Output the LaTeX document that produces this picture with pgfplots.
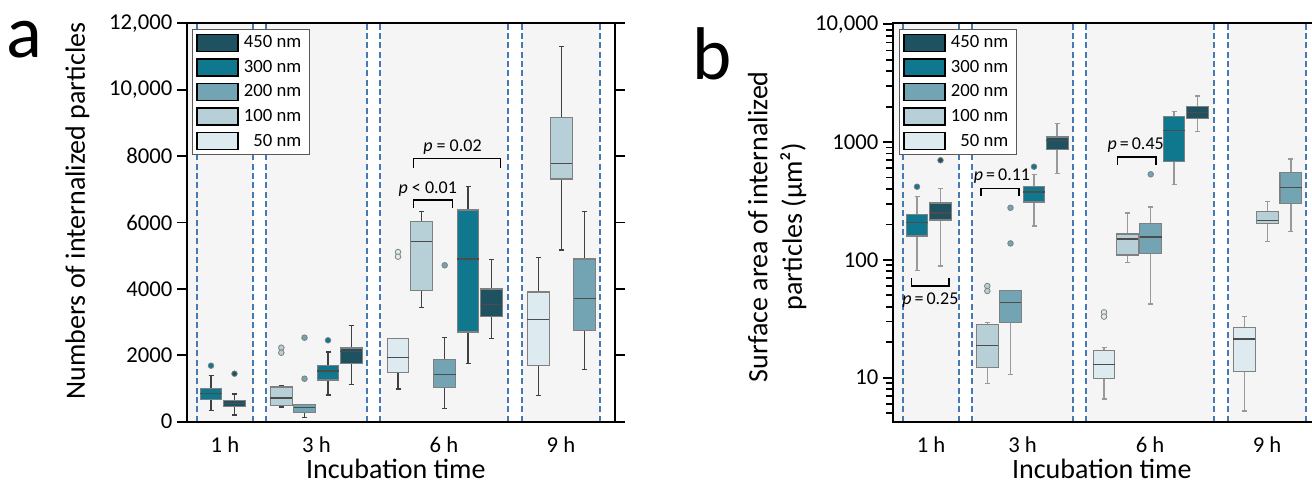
\documentclass[border=0pt]{standalone}
\usepackage{fontspec}
\setmainfont{Carlito}
\usepackage{pgfplots}
\pgfplotsset{compat=1.18}
\usepgfplotslibrary{statistics}

\definecolor{c450}{RGB}{30,82,97}
\definecolor{c300}{RGB}{15,120,142}
\definecolor{c200}{RGB}{114,164,179}
\definecolor{c100}{RGB}{183,207,215}
\definecolor{c50}{RGB}{221,235,240}
\definecolor{bggray}{RGB}{245,245,245}
\definecolor{dashblue}{RGB}{70,122,178}

\tikzset{
  sig/.style={font=\fontsize{13.5}{16}\selectfont},
  dsh/.style={dashblue, dash pattern=on 4.5pt off 2.5pt, line width=1.2pt},
}
\newcommand{\legtxt}[1]{#1\hspace*{2.5pt}}

\pgfplotsset{
  bp/.style n args={7}{
    boxplot prepared={draw direction=y, draw position=#1, lower whisker=#2, lower quartile=#3,
      median=#4, upper quartile=#5, upper whisker=#6, box extend=21.7, whisker extend=5},
    fill=#7, draw=black!50, line width=0.8pt, solid,
    mark=*, mark size=2.1pt, mark options={fill=#7, draw=black!50, line width=0.6pt},
    forget plot},
  panel/.style={
    scale only axis, width=321pt, height=298.8pt,
    xmin=187, xmax=615, axis on top,
    axis line style={line width=1.6pt},
    xtick={225,316.5,444,561}, xticklabels={1 h,3 h,6 h,9 h},
    xtick style={draw=none},
    ytick style={line width=1.4pt, black},
    scaled y ticks=false,
    tick align=outside, major tick length=7.5pt, minor tick length=5pt,
    tick label style={font=\fontsize{17}{20}\selectfont},
    label style={font=\fontsize{21}{26}\selectfont},
    xlabel={Incubation time},
    xlabel style={at={(rel axis cs:0.488,-0.118)}, anchor=center, inner sep=0pt},
    boxplot/every median/.style={draw=black!70, line width=1pt},
    boxplot/every whisker/.style={draw=black!75, line width=0.9pt},
    legend cell align=right,
    legend image code/.code={\draw[#1, draw=black, line width=1.1pt] (0pt,-6.3pt) rectangle (30.75pt,6.3pt);},
    legend style={anchor=north west, draw=black!65, line width=0.7pt, fill=white,
      font=\fontsize{14}{16}\selectfont, inner sep=3pt, row sep=4.7pt, nodes={inner sep=1pt},
      column sep=3pt},
  },
}

\begin{document}
\begin{tikzpicture}
\useasboundingbox (0,0) rectangle (984pt,363.75pt);

% ---------------- panel a ----------------
\begin{axis}[panel, at={(140.25pt,47.475pt)}, anchor=south west,
  ymin=0, ymax=12000, ytick={0,2000,4000,6000,8000,10000,12000},
  yticklabels={0,2000,4000,6000,8000,{10,000},{12,000}},
  ylabel={Numbers of internalized particles},
  ylabel style={at={(rel axis cs:-0.256,0.529)}, anchor=center},
  legend style={at={(rel axis cs:0.011,0.985)}}]
\fill[bggray] (axis cs:187,0) rectangle (axis cs:253,12000);
\fill[bggray] (axis cs:266,0) rectangle (axis cs:367,12000);
\fill[bggray] (axis cs:380,0) rectangle (axis cs:508,12000);
\fill[bggray] (axis cs:522,0) rectangle (axis cs:600,12000);
\pgfplotsinvokeforeach{197,253,266,367,380,508,522,600}{
  \draw[dsh] (axis cs:#1,0) -- (axis cs:#1,12000);
}
\addlegendimage{fill=c450}\addlegendentry{\legtxt{450 nm}}
\addlegendimage{fill=c300}\addlegendentry{\legtxt{300 nm}}
\addlegendimage{fill=c200}\addlegendentry{\legtxt{200 nm}}
\addlegendimage{fill=c100}\addlegendentry{\legtxt{100 nm}}
\addlegendimage{fill=c50}\addlegendentry{\legtxt{50 nm}}
% 1 h
\addplot[bp={211}{343}{663}{843}{994}{1398}{c300}] table[row sep=\\,y index=0]{y\\1687\\};
\addplot[bp={234.5}{202}{464}{554}{645}{834}{c450}] table[row sep=\\,y index=0]{y\\1446\\};
% 3 h
\addplot[bp={281.3}{443}{482}{714}{1045}{1096}{c100}] table[row sep=\\,y index=0]{y\\2229\\2078\\};
\addplot[bp={304.5}{133}{271}{422}{524}{524}{c200}] table[row sep=\\,y index=0]{y\\2530\\1295\\};
\addplot[bp={328}{804}{1256}{1527}{1687}{2099}{c300}] table[row sep=\\,y index=0]{y\\2452\\};
\addplot[bp={351.2}{1114}{1759}{2120}{2220}{2904}{c450}] coordinates {};
% 6 h
\addplot[bp={398}{985}{1476}{1940}{2512}{2512}{c50}] table[row sep=\\,y index=0]{y\\5111\\4970\\};
\addplot[bp={421.5}{3434}{3946}{5434}{6024}{6337}{c100}] coordinates {};
\addplot[bp={444.7}{404}{1024}{1416}{1880}{2530}{c200}] table[row sep=\\,y index=0]{y\\4711\\};
\addplot[bp={468}{1759}{2702}{4900}{6376}{7090}{c300}] coordinates {};
\addplot[bp={491.5}{2500}{3163}{3536}{3997}{4879}{c450}] coordinates {};
% 9 h
\addplot[bp={538.3}{783}{1687}{3084}{3907}{4952}{c50}] coordinates {};
\addplot[bp={561.5}{5172}{7310}{7771}{9169}{11295}{c100}] coordinates {};
\addplot[bp={584.8}{1566}{2741}{3717}{4900}{6325}{c200}] coordinates {};
% significance
\draw[line width=1.2pt] (axis cs:413.3,6428) -- (axis cs:413.3,6669) -- (axis cs:452.3,6669) -- (axis cs:452.3,6428);
\node[sig] at (axis cs:427.8,7000) {\textit{p} < 0.01};
\draw[line width=1.2pt] (axis cs:413.3,7650) -- (axis cs:413.3,7922) -- (axis cs:500.3,7922) -- (axis cs:500.3,7650);
\node[sig] at (axis cs:452.5,8265) {\textit{p} = 0.02};
\end{axis}

% ---------------- panel b ----------------
\begin{axis}[panel, at={(669.75pt,47.475pt)}, anchor=south west,
  ymode=log, ymin=4.23, ymax=10200, ytick={10,100,1000,10000},
  yticklabels={10,100,1000,{10,000}},
  minor ytick={5,6,7,8,9,20,30,40,50,60,70,80,90,200,300,400,500,600,700,800,900,2000,3000,4000,5000,6000,7000,8000,9000},
  ylabel={Surface area of internalized\\particles (μm²)},
  ylabel style={at={(rel axis cs:-0.2706,0.4895)}, anchor=center, align=center},
  legend style={at={(rel axis cs:0.0133,0.985)}},
  boxplot/every whisker/.style={draw=black!40, line width=1.1pt}]
\fill[bggray] (axis cs:187,4.23) rectangle (axis cs:253,10200);
\fill[bggray] (axis cs:266,4.23) rectangle (axis cs:367,10200);
\fill[bggray] (axis cs:380,4.23) rectangle (axis cs:508,10200);
\fill[bggray] (axis cs:522,4.23) rectangle (axis cs:600,10200);
\pgfplotsinvokeforeach{197,253,266,367,380,508,522,600}{
  \draw[dsh] (axis cs:#1,4.23) -- (axis cs:#1,10200);
}
\addlegendimage{fill=c450}\addlegendentry{\legtxt{450 nm}}
\addlegendimage{fill=c300}\addlegendentry{\legtxt{300 nm}}
\addlegendimage{fill=c200}\addlegendentry{\legtxt{200 nm}}
\addlegendimage{fill=c100}\addlegendentry{\legtxt{100 nm}}
\addlegendimage{fill=c50}\addlegendentry{\legtxt{50 nm}}
% 1 h
\addplot[bp={211}{81.6}{159.6}{208.5}{243.8}{344}{c300}] table[row sep=\\,y index=0]{y\\418\\};
\addplot[bp={234.5}{88.8}{218}{250}{304}{402}{c450}] table[row sep=\\,y index=0]{y\\701\\};
% 3 h
\addplot[bp={281.3}{8.97}{12.3}{18.8}{28.2}{29.3}{c100}] table[row sep=\\,y index=0]{y\\60\\54.5\\};
\addplot[bp={304.5}{10.6}{29.5}{43.6}{55.2}{55.2}{c200}] table[row sep=\\,y index=0]{y\\277\\138\\};
\addplot[bp={328}{194}{310}{377}{418}{533}{c300}] table[row sep=\\,y index=0]{y\\618\\};
\addplot[bp={351.2}{539}{869}{1028}{1105}{1444}{c450}] coordinates {};
% 6 h
\addplot[bp={398}{6.6}{9.9}{13.0}{17.1}{18.1}{c50}] table[row sep=\\,y index=0]{y\\35.9\\33.0\\};
\addplot[bp={421.5}{94.6}{110}{150}{166}{250}{c100}] coordinates {};
\addplot[bp={444.7}{42.2}{114}{156}{205}{280}{c200}] table[row sep=\\,y index=0]{y\\533\\};
\addplot[bp={468}{438}{682}{1260}{1643}{1826}{c300}] coordinates {};
\addplot[bp={491.5}{1225}{1592}{1790}{2014}{2460}{c450}] coordinates {};
% 9 h
\addplot[bp={538.3}{5.2}{11.3}{21.3}{26.8}{33.2}{c50}] coordinates {};
\addplot[bp={561.5}{143}{203}{217}{257}{314}{c100}] coordinates {};
\addplot[bp={584.8}{174}{300}{413}{550}{719}{c200}] coordinates {};
% significance
\draw[line width=1.2pt] (axis cs:205.4,69.8) -- (axis cs:205.4,60) -- (axis cs:243,60) -- (axis cs:243,69.8);
\node[sig] at (axis cs:224.4,45.7) {\textit{p}\thinspace=\thinspace0.25};
\draw[line width=1.2pt] (axis cs:274.7,349) -- (axis cs:274.7,405) -- (axis cs:312.7,405) -- (axis cs:312.7,349);
\node[sig] at (axis cs:296,515) {\textit{p}\thinspace=\thinspace0.11};
\draw[line width=1.2pt] (axis cs:411.4,639) -- (axis cs:411.4,743) -- (axis cs:449.7,743) -- (axis cs:449.7,639);
\node[sig] at (axis cs:429.7,945) {\textit{p}\thinspace=\thinspace0.45};
\end{axis}

\node[anchor=base west, inner sep=0, font=\fontsize{56}{60}\selectfont] at (5pt,320.25pt) {a};
\node[anchor=base west, inner sep=0, font=\fontsize{56}{60}\selectfont] at (519.5pt,303.75pt) {b};
\end{tikzpicture}
\end{document}
